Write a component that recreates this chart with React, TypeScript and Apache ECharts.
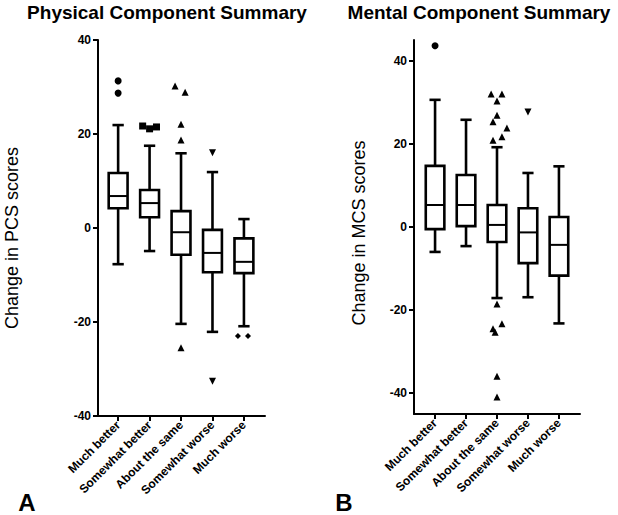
import React, { useEffect, useRef } from "react";
import * as echarts from "echarts";

const categories = ["Much better", "Somewhat better", "About the same", "Somewhat worse", "Much worse"];
const categoryPositions = [1, 2, 3, 4, 5];

// Physical Component Summary (PCS)
const pcsWhiskerLow = [-7.7, -4.9, -20.4, -22.1, -20.9];
const pcsQ1 = [4.2, 2.3, -5.7, -9.4, -9.6];
const pcsMedian = [6.8, 5.3, -0.9, -5.3, -7.2];
const pcsQ3 = [11.7, 8.1, 3.6, -0.4, -2.2];
const pcsWhiskerHigh = [21.9, 17.5, 15.9, 11.9, 1.9];
// outliers per category: [horizontal offset, value]
const pcsOutliers = [
  [[0, 31.3], [0, 28.7]],
  [[-0.22, 21.7], [0, 21.1], [0.22, 21.5]],
  [[-0.19, 30.2], [0.13, 28.9], [0, 22.1], [0, 18.7], [0, -25.5]],
  [[0, 16.0], [0, -32.6]],
  [[-0.19, -23.0], [0.13, -23.0]],
];
const pcsTicks = [-40, -20, 0, 20, 40];

// Mental Component Summary (MCS)
const mcsWhiskerLow = [-6.0, -4.6, -17.1, -16.9, -23.2];
const mcsQ1 = [-0.5, 0.2, -3.6, -8.7, -11.7];
const mcsMedian = [5.3, 5.3, 0.5, -1.3, -4.3];
const mcsQ3 = [14.7, 12.5, 5.3, 4.5, 2.4];
const mcsWhiskerHigh = [30.6, 25.8, 19.2, 13.0, 14.6];
const mcsOutliers = [
  [[0, 43.6]],
  [],
  [
    [-0.19, 32.0], [0.16, 32.0], [0, 30.3], [0, 26.9], [-0.13, 25.3], [0.32, 23.8], [0.16, 21.7], [-0.13, 20.9],
    [0, -18.5], [-0.13, -24.5], [-0.06, -25.3], [0.16, -23.3], [0, -35.9], [0, -40.9],
  ],
  [[0, 27.7]],
  [],
];
const mcsTicks = [-40, -20, 0, 20, 40];

const outlierSymbols = ["circle", "rect", "triangle", "triangle", "diamond"];
const outlierRotations = [0, 0, 0, 180, 0];
const outlierSizes = [7, 7, 7, 7, 6];

const FONT = "'Liberation Sans', Arial, Helvetica, sans-serif";
const BOX_W = 0.6;
const CAP_W = 0.36;

function renderBox(params: any, api: any) {
  const x = api.value(0);
  const lo = api.coord([x, api.value(1)]);
  const q1 = api.coord([x, api.value(2)]);
  const md = api.coord([x, api.value(3)]);
  const q3 = api.coord([x, api.value(4)]);
  const hi = api.coord([x, api.value(5)]);
  const bw = api.size([BOX_W, 0])[0];
  const cw = api.size([CAP_W, 0])[0];
  const cx = lo[0];
  const ls = { stroke: "#000", lineWidth: 2.6, fill: "none" };
  return {
    type: "group",
    children: [
      { type: "line", shape: { x1: cx, y1: q3[1], x2: cx, y2: hi[1] }, style: ls },
      { type: "line", shape: { x1: cx, y1: q1[1], x2: cx, y2: lo[1] }, style: ls },
      { type: "line", shape: { x1: cx - cw / 2, y1: hi[1], x2: cx + cw / 2, y2: hi[1] }, style: ls },
      { type: "line", shape: { x1: cx - cw / 2, y1: lo[1], x2: cx + cw / 2, y2: lo[1] }, style: ls },
      {
        type: "rect",
        shape: { x: cx - bw / 2, y: q3[1], width: bw, height: q1[1] - q3[1] },
        style: { stroke: "#000", lineWidth: 2.6, fill: "#fff" },
      },
      { type: "line", shape: { x1: cx - bw / 2, y1: md[1], x2: cx + bw / 2, y2: md[1] }, style: { stroke: "#000", lineWidth: 2 } },
    ],
  };
}

function boxData(lo: number[], q1: number[], md: number[], q3: number[], hi: number[]) {
  return categoryPositions.map((p, i) => [p, lo[i], q1[i], md[i], q3[i], hi[i]]);
}

function makeXAxis(gridIndex: number, min: number, max: number) {
  return {
    type: "value",
    gridIndex,
    min,
    max,
    splitLine: { show: false },
    axisLine: { show: true, onZero: false, lineStyle: { color: "#000", width: 2 } },
    axisTick: { show: true, customValues: categoryPositions, length: 5, lineStyle: { color: "#000", width: 2 } },
    axisLabel: {
      show: true,
      customValues: categoryPositions,
      formatter: (v: number) => categories[Math.round(v) - 1] || "",
      rotate: 45,
      margin: 7,
      color: "#000",
      fontFamily: FONT,
      fontWeight: "bold",
      fontSize: 12,
    },
  };
}

function makeYAxis(gridIndex: number, min: number, max: number, ticks: number[]) {
  return {
    type: "value",
    gridIndex,
    min,
    max,
    splitLine: { show: false },
    axisLine: { show: true, onZero: false, lineStyle: { color: "#000", width: 2 } },
    axisTick: { show: true, customValues: ticks, length: 5, lineStyle: { color: "#000", width: 2 } },
    axisLabel: {
      show: true,
      customValues: ticks,
      margin: 7,
      color: "#000",
      fontFamily: FONT,
      fontWeight: "bold",
      fontSize: 12,
    },
  };
}

function outlierSeries(outliers: number[][][], axisIndex: number) {
  return outliers
    .map((list, i) => ({
      type: "scatter",
      xAxisIndex: axisIndex,
      yAxisIndex: axisIndex,
      symbol: outlierSymbols[i],
      symbolRotate: outlierRotations[i],
      symbolSize: outlierSizes[i],
      itemStyle: { color: "#000", opacity: 1 },
      z: 5,
      data: list.map(([off, v]) => [categoryPositions[i] + off, v]),
    }))
    .filter((s) => s.data.length > 0);
}

export default function App() {
  const ref = useRef<HTMLDivElement>(null);
  useEffect(() => {
    if (!ref.current) return;
    const chart = echarts.init(ref.current, undefined, { renderer: "svg" });
    chart.setOption({
      animation: false,
      backgroundColor: "#fff",
      grid: [
        { left: 98, top: 40, width: 167, height: 376 },
        { left: 414, top: 40, width: 166, height: 374 },
      ],
      xAxis: [makeXAxis(0, 0.36, 5.67), makeXAxis(1, 0.32, 5.68)],
      yAxis: [makeYAxis(0, -40, 40, pcsTicks), makeYAxis(1, -45, 45, mcsTicks)],
      series: [
        {
          type: "custom",
          xAxisIndex: 0,
          yAxisIndex: 0,
          renderItem: renderBox,
          encode: { x: 0, y: [1, 2, 3, 4, 5] },
          data: boxData(pcsWhiskerLow, pcsQ1, pcsMedian, pcsQ3, pcsWhiskerHigh),
        },
        {
          type: "custom",
          xAxisIndex: 1,
          yAxisIndex: 1,
          renderItem: renderBox,
          encode: { x: 0, y: [1, 2, 3, 4, 5] },
          data: boxData(mcsWhiskerLow, mcsQ1, mcsMedian, mcsQ3, mcsWhiskerHigh),
        },
        ...outlierSeries(pcsOutliers, 0),
        ...outlierSeries(mcsOutliers, 1),
      ],
      graphic: [
        {
          type: "text",
          x: 167,
          y: 12,
          style: { text: "Physical Component Summary", fontFamily: FONT, fontWeight: "bold", fontSize: 19, fill: "#000", align: "center", verticalAlign: "middle" },
        },
        {
          type: "text",
          x: 479,
          y: 12,
          style: { text: "Mental Component Summary", fontFamily: FONT, fontWeight: "bold", fontSize: 19, fill: "#000", align: "center", verticalAlign: "middle" },
        },
        {
          type: "text",
          x: 12,
          y: 238,
          rotation: Math.PI / 2,
          style: { text: "Change in PCS scores", fontFamily: FONT, fontSize: 18, fill: "#000", align: "center", verticalAlign: "middle" },
        },
        {
          type: "text",
          x: 359,
          y: 233,
          rotation: Math.PI / 2,
          style: { text: "Change in MCS scores", fontFamily: FONT, fontSize: 18, fill: "#000", align: "center", verticalAlign: "middle" },
        },
        {
          type: "text",
          x: 27,
          y: 502,
          style: { text: "A", fontFamily: FONT, fontWeight: "bold", fontSize: 24, fill: "#000", align: "center", verticalAlign: "middle" },
        },
        {
          type: "text",
          x: 344,
          y: 502,
          style: { text: "B", fontFamily: FONT, fontWeight: "bold", fontSize: 24, fill: "#000", align: "center", verticalAlign: "middle" },
        },
      ],
    });
    return () => chart.dispose();
  }, []);
  return <div ref={ref} style={{ width: 618, height: 515, position: "absolute", left: 0, top: 0 }} />;
}
